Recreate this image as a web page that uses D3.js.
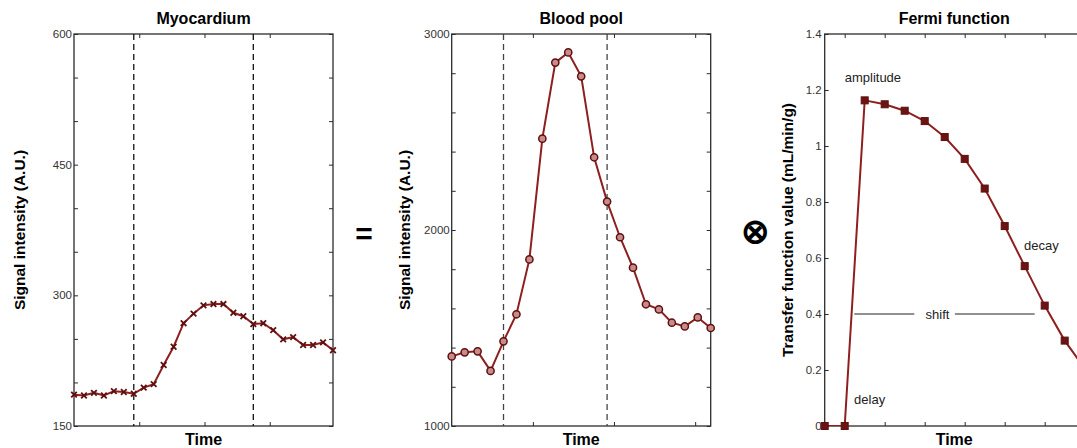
<!DOCTYPE html>
<html>
<head>
<meta charset="utf-8">
<script src="https://cdn.jsdelivr.net/npm/d3@7"></script>
<style>
  body { margin: 0; background: #fff; }
  text { font-family: "Liberation Sans", Arial, sans-serif; }
</style>
</head>
<body>
<div id="chart"></div>
<script>
// Data
const myoValues = [186, 185, 188, 185, 190, 189, 187, 194, 198, 220, 241, 268, 279, 288.5, 290, 290,
                   280, 276, 267, 268, 260, 249.5, 252, 243, 243, 246, 237];
const myoDashes = [6, 18];
const myoXTicks = [6.55, 13.1, 19.65];
const myoYTicks = d3.range(150, 601, 50);
const myoYLabels = [150, 300, 450, 600];

const bloodValues = [1355, 1376, 1381, 1281, 1432, 1570, 1850, 2466, 2854, 2906, 2784, 2371,
                     2145, 1963, 1808, 1621, 1595, 1527, 1508, 1554, 1500];
const bloodDashes = [4, 12];
const bloodXTicks = [6.27, 12.53, 18.8];
const bloodYTicks = d3.range(1000, 3001, 200);
const bloodYLabels = [1000, 2000, 3000];

const fermiValues = [0, 0, 1.163, 1.149, 1.126, 1.089, 1.032, 0.954, 0.848, 0.714, 0.571, 0.43, 0.305, 0.205];
const fermiXTicks = [1, 3, 5, 7, 9, 11];
const fermiYTicks = [0, 0.2, 0.4, 0.6, 0.8, 1, 1.2, 1.4];
const fermiNotes = [
  {text: 'amplitude', x: 1.0, y: 1.227},
  {text: 'decay', x: 9.97, y: 0.627},
  {text: 'delay', x: 1.47, y: 0.08}
];
const shiftLabel = {text: 'shift', x: 5.64, y: 0.4, from: 1.48, to: 10.5, gapL: 4.48, gapR: 6.51};

const W = 1077, H = 448;
const plotTop = 34, ph = 392, pw = 259;
const lineColor = '#8e1f1f';
const markColor = '#5e0f0f';
const axisColor = '#2b2b2b';

const svg = d3.select('#chart').append('svg')
    .attr('width', W)
    .attr('height', H);

function panel(opts) {
  const g = svg.append('g').attr('transform', 'translate(' + opts.left + ',' + plotTop + ')');

  const x = d3.scaleLinear().domain(opts.xDomain).range([0, pw]);
  const y = d3.scaleLinear().domain(opts.yDomain).range([ph, 0]);

  g.append('clipPath').attr('id', 'clip-' + opts.id)
    .append('rect').attr('width', pw).attr('height', ph);

  // inward ticks, left (and mirrored right), bottom and top
  g.append('g').call(d3.axisRight(y).tickValues(opts.yTicks).tickSize(4).tickFormat(''));
  if (opts.mirrorY) {
    g.append('g').attr('transform', 'translate(' + pw + ',0)')
      .call(d3.axisLeft(y).tickValues(opts.yTicks).tickSize(4).tickFormat(''));
  }
  g.append('g').attr('transform', 'translate(0,' + ph + ')')
    .call(d3.axisTop(x).tickValues(opts.xTicks).tickSize(4).tickFormat(''));
  g.append('g')
    .call(d3.axisBottom(x).tickValues(opts.xTicks).tickSize(4).tickFormat(''));
  g.selectAll('.domain').remove();
  g.selectAll('.tick line').attr('stroke', axisColor).attr('stroke-width', 1);

  // y tick labels
  g.selectAll('.ylab')
    .data(opts.yLabels)
    .enter().append('text')
    .attr('class', 'ylab')
    .attr('x', -opts.labGap)
    .attr('y', function(d) { return y(d); })
    .attr('dy', '0.35em')
    .attr('text-anchor', 'end')
    .attr('font-size', 11.5)
    .attr('fill', '#333')
    .text(opts.fmt);

  // box
  g.append('rect')
    .attr('width', pw).attr('height', ph)
    .attr('fill', 'none')
    .attr('stroke', axisColor)
    .attr('stroke-width', 1.3);

  // title and labels
  g.append('text')
    .attr('x', pw / 2).attr('y', -10)
    .attr('text-anchor', 'middle')
    .attr('font-size', 16).attr('font-weight', 'bold')
    .text(opts.title);
  g.append('text')
    .attr('x', pw / 2).attr('y', ph + 19)
    .attr('text-anchor', 'middle')
    .attr('font-size', 16).attr('font-weight', 'bold')
    .text('Time');
  g.append('text')
    .attr('transform', 'translate(' + opts.ylabX + ',' + (ph / 2) + ') rotate(-90)')
    .attr('text-anchor', 'middle')
    .attr('dy', '0.35em')
    .attr('font-size', 15.5).attr('font-weight', 'bold')
    .text(opts.ylabel);

  return {g: g, x: x, y: y};
}

function drawSeries(p, values, id) {
  const line = d3.line()
    .x(function(d, i) { return p.x(i); })
    .y(function(d) { return p.y(d); });
  p.g.append('path')
    .datum(values)
    .attr('clip-path', 'url(#clip-' + id + ')')
    .attr('fill', 'none')
    .attr('stroke', lineColor)
    .attr('stroke-width', 2)
    .attr('d', line);
}

// ---------- Myocardium ----------
const p1 = panel({
  id: 'myo', left: 74, title: 'Myocardium', ylabel: 'Signal intensity (A.U.)', ylabX: -54,
  xDomain: [0, myoValues.length - 1], yDomain: [150, 600],
  xTicks: myoXTicks, yTicks: myoYTicks, yLabels: myoYLabels, mirrorY: true,
  labGap: 2, fmt: function(d) { return d; }
});
p1.g.selectAll('.dash')
  .data(myoDashes)
  .enter().append('line')
  .attr('x1', function(d) { return p1.x(d); })
  .attr('x2', function(d) { return p1.x(d); })
  .attr('y1', 0).attr('y2', ph)
  .attr('stroke', '#111').attr('stroke-width', 1.3)
  .attr('stroke-dasharray', '6,4');
drawSeries(p1, myoValues, 'myo');
p1.g.selectAll('.xm')
  .data(myoValues)
  .enter().append('path')
  .attr('transform', function(d, i) { return 'translate(' + p1.x(i) + ',' + p1.y(d) + ')'; })
  .attr('d', 'M-2.8,-2.8L2.8,2.8M-2.8,2.8L2.8,-2.8')
  .attr('stroke', markColor)
  .attr('stroke-width', 1.8);

// ---------- Blood pool ----------
const p2 = panel({
  id: 'blood', left: 451.7, title: 'Blood pool', ylabel: 'Signal intensity (A.U.)', ylabX: -47,
  xDomain: [0, bloodValues.length - 1], yDomain: [1000, 3000],
  xTicks: bloodXTicks, yTicks: bloodYTicks, yLabels: bloodYLabels, mirrorY: true,
  labGap: 2, fmt: function(d) { return d; }
});
p2.g.selectAll('.dash')
  .data(bloodDashes)
  .enter().append('line')
  .attr('x1', function(d) { return p2.x(d); })
  .attr('x2', function(d) { return p2.x(d); })
  .attr('y1', 0).attr('y2', ph)
  .attr('stroke', '#444').attr('stroke-width', 1.3)
  .attr('stroke-dasharray', '6,4');
drawSeries(p2, bloodValues, 'blood');
p2.g.selectAll('.dot')
  .data(bloodValues)
  .enter().append('circle')
  .attr('cx', function(d, i) { return p2.x(i); })
  .attr('cy', function(d) { return p2.y(d); })
  .attr('r', 3.6)
  .attr('fill', '#c98a8a')
  .attr('stroke', markColor)
  .attr('stroke-width', 1.5);

// ---------- Fermi function ----------
const p3 = panel({
  id: 'fermi', left: 824.7, title: 'Fermi function', ylabel: 'Transfer function value (mL/min/g)', ylabX: -37,
  xDomain: [0, 12.95], yDomain: [0, 1.4],
  xTicks: fermiXTicks, yTicks: fermiYTicks, yLabels: fermiYTicks, mirrorY: false,
  labGap: 3, fmt: function(d) { return +d.toFixed(1) + ''; }
});
drawSeries(p3, fermiValues, 'fermi');
p3.g.selectAll('.sq')
  .data(fermiValues)
  .enter().append('rect')
  .attr('x', function(d, i) { return p3.x(i) - 3.5; })
  .attr('y', function(d) { return p3.y(d) - 3.5; })
  .attr('width', 7).attr('height', 7)
  .attr('fill', '#6a1414')
  .attr('stroke', markColor)
  .attr('stroke-width', 1);

p3.g.selectAll('.note')
  .data(fermiNotes)
  .enter().append('text')
  .attr('x', function(d) { return p3.x(d.x); })
  .attr('y', function(d) { return p3.y(d.y); })
  .attr('font-size', 13)
  .attr('fill', '#222')
  .text(function(d) { return d.text; });

p3.g.append('text')
  .attr('x', p3.x(shiftLabel.x))
  .attr('y', p3.y(shiftLabel.y))
  .attr('dy', '0.35em')
  .attr('text-anchor', 'middle')
  .attr('font-size', 13)
  .attr('fill', '#222')
  .text(shiftLabel.text);
p3.g.selectAll('.shiftline')
  .data([[shiftLabel.from, shiftLabel.gapL], [shiftLabel.gapR, shiftLabel.to]])
  .enter().append('line')
  .attr('x1', function(d) { return p3.x(d[0]); })
  .attr('x2', function(d) { return p3.x(d[1]); })
  .attr('y1', p3.y(shiftLabel.y))
  .attr('y2', p3.y(shiftLabel.y))
  .attr('stroke', '#222')
  .attr('stroke-width', 1.2);

// operators between the panels
svg.append('text')
  .attr('x', 364).attr('y', 233)
  .attr('dy', '0.35em')
  .attr('text-anchor', 'middle')
  .attr('font-size', 30).attr('font-weight', 'bold')
  .text('=');
svg.append('text')
  .attr('x', 755).attr('y', 231)
  .attr('dy', '0.35em')
  .attr('text-anchor', 'middle')
  .attr('font-family', 'DejaVu Sans')
  .attr('font-size', 34).attr('font-weight', 'bold')
  .text('\u2297');
</script>
</body>
</html>
